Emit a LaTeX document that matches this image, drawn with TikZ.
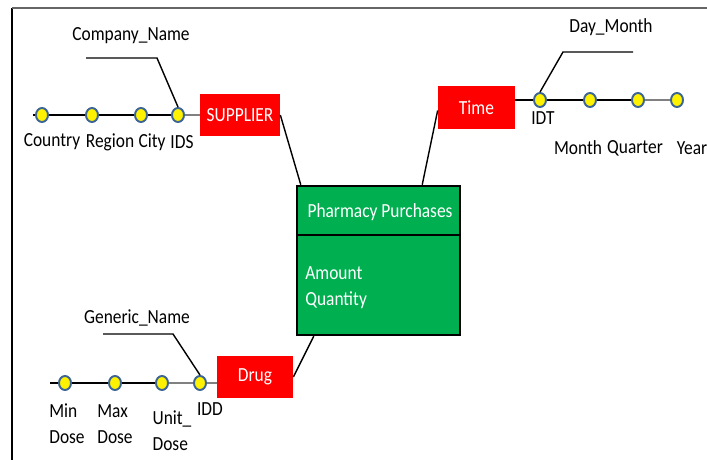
\documentclass[tikz,border=0pt]{standalone}
\usepackage{fontspec}
\setmainfont{Carlito}
\usetikzlibrary{positioning,calc,shapes.geometric}
\definecolor{factgreen}{RGB}{0,176,80}
\definecolor{dimred}{RGB}{255,0,0}
\definecolor{dotblue}{RGB}{60,100,150}

\tikzset{
  every node/.style={font=\fontsize{9.9}{12.8}\selectfont},
  txt/.style={yscale=1.15, transform shape},
  dimbox/.style={fill=dimred, inner sep=0pt, minimum height=0.84cm},
  lvl/.style={ellipse, draw=dotblue, fill=yellow, line width=1.1pt, inner sep=0pt, minimum width=0.24cm, minimum height=0.28cm},
  hline/.style={black, line width=1.2pt},
  thinline/.style={gray, line width=1pt},
  link/.style={black, line width=0.8pt}
}

\begin{document}
\begin{tikzpicture}[x=0.02cm, y=-0.02cm]
\useasboundingbox (0,0) rectangle (707,460);
%% frame
\draw[black, line width=0.8pt] (12,8) -- (12,460);
\draw[gray!80!black, line width=1pt] (12,8) -- (707,8);

%% fact table
\node[draw, line width=1.4pt, fill=factgreen, minimum width=3.26cm, minimum height=2.98cm, inner sep=0pt] (fact) at (378.5,260.5) {};
\draw[black, line width=0.6pt] (fact.west |- 0,235) -- (fact.east |- 0,235);
\node[txt, text=white] (factname) at (380,212) {Pharmacy Purchases};
\node[txt, text=white, anchor=west, inner sep=0pt] (amount) at (305,273) {Amount};
\node[txt, text=white, anchor=west, inner sep=0pt] (quantity) at (305,300) {Quantity};

%% supplier
\node[dimbox, minimum width=1.6cm] (sup) at (240,115) {};
\node[txt, text=white] (suptxt) at (sup) {SUPPLIER};
\node[lvl] (country) at (42,115) {};
\node[lvl] (region) at (92,115) {};
\node[lvl] (city) at (141,115) {};
\node[lvl] (ids) at (178,115) {};
\coordinate (supstart) at (33,115);
\draw[hline] (supstart) -- (country);
\draw[hline] (country) -- (region);
\draw[hline] (region) -- (city);
\draw[hline] (city) -- (ids);
\draw[thinline] (ids) -- (sup.west |- ids);
\node[txt] (lcountry) at (52,142) {Country};
\node[txt] (lregion) at (110,142) {Region};
\node[txt] (lcity) at (152,142) {City};
\node[txt] (lids) at (182,142) {IDS};
\node[txt] (compname) at (131,36) {Company\_Name};
\coordinate (compend) at (86,58);
\draw[link] (compend) -- (157,58) -- (ids.north);
\draw[link] (sup.east) -- ($(fact.north west)+(5,0)$);

%% time
\node[dimbox, minimum width=1.54cm, minimum height=0.86cm] (time) at (476.5,107.5) {};
\node[txt, text=white] (timetxt) at (time) {Time};
\node[lvl] (idt) at (540,100) {};
\node[lvl] (month) at (590,100) {};
\node[lvl] (quarter) at (638,100) {};
\node[lvl] (year) at (677,100) {};
\draw[hline] (time.east |- idt) -- (idt);
\draw[hline] (idt) -- (month);
\draw[hline] (month) -- (quarter);
\draw[thinline] (quarter) -- (year);
\node[txt] (lidt) at (543,118) {IDT};
\node[txt] (lmonth) at (578,148) {Month};
\node[txt] (lquarter) at (635,148) {Quarter};
\node[txt] (lyear) at (692,148) {Year};
\node[txt] (daymonth) at (611,27) {Day\_Month};
\coordinate (dayend) at (633,52);
\draw[link] (dayend) -- (563,52) -- (idt.north);
\draw[link] ($(time.west)+(0,3)$) -- ($(fact.north east)+(-39,0)$);

%% drug
\node[dimbox, minimum width=1.52cm] (drug) at (255,377) {};
\node[txt, text=white] (drugtxt) at (drug) {Drug};
\node[lvl] (mindose) at (65,383) {};
\node[lvl] (maxdose) at (115,383) {};
\node[lvl] (unitdose) at (162,383) {};
\node[lvl] (idd) at (200,383) {};
\coordinate (drugstart) at (50,383);
\draw[hline] (drugstart) -- (mindose);
\draw[hline] (mindose) -- (maxdose);
\draw[hline] (maxdose) -- (unitdose);
\draw[thinline] (unitdose) -- (idd);
\draw[thinline] (idd) -- (drug.west |- idd);
\node[txt, align=left] (lmin) at (67,424) {Min\\Dose};
\node[txt, align=left] (lmax) at (115,424) {Max\\Dose};
\node[txt, align=left] (lunit) at (172,431) {Unit\_\\Dose};
\node[txt] (lidd) at (210,409) {IDD};
\node[txt] (genname) at (137,318) {Generic\_Name};
\coordinate (genend) at (103,334);
\draw[link] (genend) -- (173,334) -- (idd.north);
\draw[link] (drug.east) -- ($(fact.south west)+(18,0)$);
\end{tikzpicture}
\end{document}
